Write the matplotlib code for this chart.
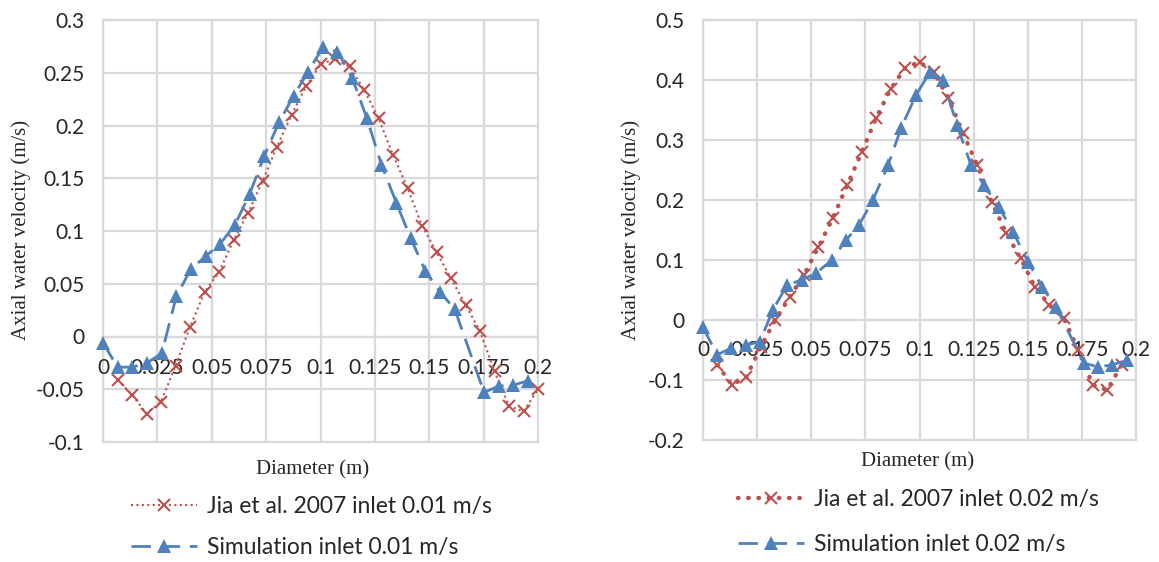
import matplotlib
matplotlib.use("Agg")
import matplotlib.pyplot as plt
from matplotlib.lines import Line2D

# ---- data -----------------------------------------------------------------
# Left panel: inlet 0.01 m/s
jia_x_1 = [k * 0.2 / 30 for k in range(1, 31)]
jia_y_1 = [-0.041, -0.055, -0.073, -0.062, -0.028, 0.009, 0.042, 0.061, 0.091, 0.117,
           0.147, 0.180, 0.210, 0.237, 0.258, 0.263, 0.256, 0.234, 0.207, 0.172,
           0.141, 0.105, 0.080, 0.055, 0.030, 0.005, -0.033, -0.066, -0.071, -0.050]

sim_x_1 = [0.0, 0.0067, 0.0135, 0.0202, 0.0270, 0.0337, 0.0404, 0.0472, 0.0539, 0.0607,
           0.0674, 0.0741, 0.0809, 0.0876, 0.0943, 0.1011, 0.1078, 0.1146, 0.1213, 0.1280,
           0.1348, 0.1415, 0.1482, 0.1550, 0.1617, 0.1752, 0.1819, 0.1887, 0.1954]
sim_y_1 = [-0.006, -0.029, -0.029, -0.025, -0.016, 0.038, 0.064, 0.076, 0.088, 0.106,
           0.135, 0.171, 0.203, 0.228, 0.251, 0.274, 0.270, 0.245, 0.207, 0.163,
           0.127, 0.093, 0.062, 0.042, 0.026, -0.053, -0.047, -0.046, -0.042]

# Right panel: inlet 0.02 m/s
jia_x_2 = [k * 0.2 / 30 for k in range(1, 30)]
jia_y_2 = [-0.075, -0.108, -0.095, -0.045, 0.000, 0.038, 0.075, 0.122, 0.170, 0.225,
           0.280, 0.337, 0.385, 0.420, 0.430, 0.413, 0.370, 0.312, 0.258, 0.197,
           0.145, 0.103, 0.055, 0.025, 0.003, -0.050, -0.108, -0.117, -0.075]

sim_x_2 = [0.0, 0.0065, 0.0129, 0.0199, 0.0263, 0.0323, 0.0388, 0.0457, 0.0522, 0.0596,
           0.0660, 0.0720, 0.0785, 0.0855, 0.0915, 0.0984, 0.1048, 0.1109, 0.1173, 0.1238,
           0.1298, 0.1367, 0.1432, 0.1501, 0.1566, 0.1630, 0.1760, 0.1824, 0.1889, 0.1958]
sim_y_2 = [-0.012, -0.058, -0.047, -0.042, -0.036, 0.017, 0.058, 0.067, 0.078, 0.100,
           0.133, 0.158, 0.200, 0.258, 0.320, 0.375, 0.413, 0.400, 0.325, 0.258,
           0.225, 0.188, 0.147, 0.097, 0.055, 0.022, -0.072, -0.078, -0.075, -0.067]

x_ticks = [0, 0.025, 0.05, 0.075, 0.1, 0.125, 0.15, 0.175, 0.2]
x_tick_labels = ["0", "0.025", "0.05", "0.075", "0.1", "0.125", "0.15", "0.175", "0.2"]
y_ticks_1 = [-0.1, -0.05, 0, 0.05, 0.1, 0.15, 0.2, 0.25, 0.3]
y_tick_labels_1 = ["-0.1", "-0.05", "0", "0.05", "0.1", "0.15", "0.2", "0.25", "0.3"]
y_ticks_2 = [-0.2, -0.1, 0, 0.1, 0.2, 0.3, 0.4, 0.5]
y_tick_labels_2 = ["-0.2", "-0.1", "0", "0.1", "0.2", "0.3", "0.4", "0.5"]

label_jia_1 = "Jia et al. 2007 inlet 0.01 m/s"
label_sim_1 = "Simulation inlet 0.01 m/s"
label_jia_2 = "Jia et al. 2007 inlet 0.02 m/s"
label_sim_2 = "Simulation inlet 0.02 m/s"

# ---- style ----------------------------------------------------------------
RED = "#C0504D"
BLUE = "#4F81BD"
GRID = "#D9D9D9"
TEXT = "#262626"
TICK_FONT = "Lato"
TITLE_FONT = "Liberation Serif"
TICK_SIZE = 15
TITLE_SIZE = 15
LEGEND_SIZE = 16.5

W, H = 1159, 562
fig = plt.figure(figsize=(W / 100, H / 100), dpi=100)


def px_axes(x0, y0, x1, y1):
    return fig.add_axes([x0 / W, 1 - y1 / H, (x1 - x0) / W, (y1 - y0) / H])


def style_axes(ax, yticks, ylabels, ylim, xpad):
    # horizontal axis crosses at zero; set this first since it rebuilds the ticks
    for side in ("top", "right", "left"):
        ax.spines[side].set_visible(False)
    ax.spines["bottom"].set_position(("data", 0))
    ax.spines["bottom"].set_color(GRID)
    ax.spines["bottom"].set_linewidth(1.6)

    ax.set_xlim(0, 0.2)
    ax.set_ylim(*ylim)
    ax.set_xticks(x_ticks)
    ax.set_xticklabels(x_tick_labels)
    ax.set_yticks(yticks)
    ax.set_yticklabels(ylabels)
    ax.tick_params(axis="both", length=0, labelsize=TICK_SIZE,
                   labelcolor=TEXT, labelfontfamily=TICK_FONT)
    ax.tick_params(axis="x", pad=xpad)
    ax.tick_params(axis="y", pad=13)
    ax.grid(True, color=GRID, linewidth=1.6, zorder=0)
    ax.set_axisbelow(True)
    # border lines on the outer grid edges
    for v in ylim:
        ax.axhline(v, color=GRID, linewidth=1.6, zorder=0.5, clip_on=False)
    for v in (0, 0.2):
        ax.axvline(v, color=GRID, linewidth=1.6, zorder=0.5, clip_on=False)


# ---- left panel -------------------------------------------------------------
ax1 = px_axes(103, 20, 538, 442)
style_axes(ax1, y_ticks_1, y_tick_labels_1, (-0.1, 0.3), xpad=15.5)
jia_style_1 = dict(color=RED, linestyle=(0, (1, 1.6)), linewidth=1.5,
                   marker="x", markersize=8.5, markeredgewidth=1.5)
sim_style = dict(color=BLUE, linestyle=(0, (7, 3.5)), linewidth=2.0,
                 marker="^", markersize=10.5, markeredgewidth=0)
ax1.plot(jia_x_1, jia_y_1, clip_on=False, zorder=3, **jia_style_1)
ax1.plot(sim_x_1, sim_y_1, clip_on=False, zorder=4, **sim_style)

fig.text(21 / W, 1 - 230 / H, "Axial water velocity (m/s)", rotation=90,
         ha="center", va="center", fontfamily=TITLE_FONT, fontsize=TITLE_SIZE, color=TEXT)
fig.text(313 / W, 1 - 470 / H, "Diameter (m)", ha="center", va="center",
         fontfamily=TITLE_FONT, fontsize=TITLE_SIZE, color=TEXT)

h_jia_1 = Line2D([], [], **jia_style_1)
h_sim_1 = Line2D([], [], **sim_style)
fig.legend([h_jia_1, h_sim_1], [label_jia_1, label_sim_1],
           loc="center left", bbox_to_anchor=(131 / W, 1 - 527 / H),
           frameon=False, prop={"family": TICK_FONT, "size": LEGEND_SIZE},
           labelcolor=TEXT, handlelength=2.9, handletextpad=0.4, labelspacing=0.88,
           borderpad=0, borderaxespad=0)

# ---- right panel ------------------------------------------------------------
ax2 = px_axes(703, 20, 1136, 440)
style_axes(ax2, y_ticks_2, y_tick_labels_2, (-0.2, 0.5), xpad=14.5)
jia_style_2 = dict(color=RED, linestyle=(0, (0.1, 2.2)), linewidth=3.2,
                   dash_capstyle="round", marker="x", markersize=8.5, markeredgewidth=1.5)
ax2.plot(jia_x_2, jia_y_2, clip_on=False, zorder=3, **jia_style_2)
ax2.plot(sim_x_2, sim_y_2, clip_on=False, zorder=4, **sim_style)

fig.text(631 / W, 1 - 230 / H, "Axial water velocity (m/s)", rotation=90,
         ha="center", va="center", fontfamily=TITLE_FONT, fontsize=TITLE_SIZE, color=TEXT)
fig.text(918 / W, 1 - 462 / H, "Diameter (m)", ha="center", va="center",
         fontfamily=TITLE_FONT, fontsize=TITLE_SIZE, color=TEXT)

h_jia_2 = Line2D([], [], **jia_style_2)
h_sim_2 = Line2D([], [], **sim_style)
fig.legend([h_jia_2, h_sim_2], [label_jia_2, label_sim_2],
           loc="center left", bbox_to_anchor=(738 / W, 1 - 522 / H),
           frameon=False, prop={"family": TICK_FONT, "size": LEGEND_SIZE},
           labelcolor=TEXT, handlelength=2.9, handletextpad=0.4, labelspacing=1.05,
           borderpad=0, borderaxespad=0)

fig.savefig("out.png", dpi=100, facecolor="white")
